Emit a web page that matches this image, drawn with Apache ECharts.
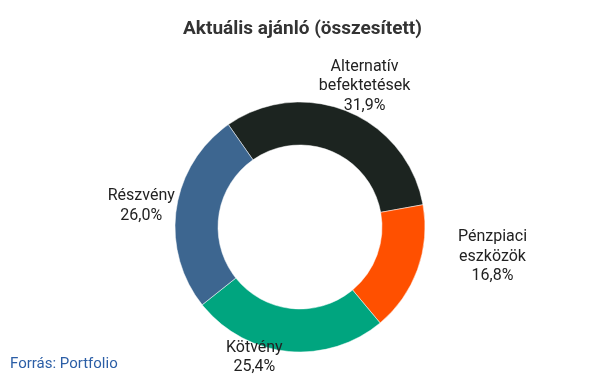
<!DOCTYPE html>
<html>
<head>
<meta charset="utf-8">
<script src="https://cdn.jsdelivr.net/npm/echarts@6/dist/echarts.min.js"></script>
<style>
  html, body { margin: 0; padding: 0; background: #fff; }
  #chart { width: 605px; height: 378px; }
</style>
</head>
<body>
<div id="chart"></div>
<script>
  // Aktuális ajánló – gyűrűdiagram
  var categories = ['Alternatív befektetések', 'Pénzpiaci eszközök', 'Kötvény', 'Részvény'];
  var shares = [31.9, 16.8, 25.4, 26.0];
  var colors = ['#1c2420', '#ff5000', '#00a57f', '#3d6690'];

  // címke eltolása a szelet külső ívének közepétől
  var labelShift = [[17, -25], [75, -13], [-33, 6], [-35, -3]];

  var myChart = echarts.init(document.getElementById('chart'));

  var pieData = categories.map(function (name, i) {
    return { name: name, value: shares[i], itemStyle: { color: colors[i] } };
  });

  var options = {
    backgroundColor: '#fff',
    animation: false,
    title: {
      text: 'Aktuális ajánló (összesített)',
      left: 'center',
      top: 15,
      textStyle: {
        fontFamily: 'Roboto',
        fontSize: 19,
        fontWeight: 'bold',
        color: '#333'
      }
    },
    graphic: [{
      type: 'text',
      left: 10,
      top: 357,
      style: {
        text: 'Forrás: Portfolio',
        fontFamily: 'Roboto',
        fontSize: 15,
        fill: '#2b5ea6'
      }
    }],
    series: [{
      type: 'pie',
      center: [300, 227],
      radius: [82, 125],
      startAngle: 125,
      clockwise: true,
      avoidLabelOverlap: false,
      itemStyle: { borderColor: '#fff', borderWidth: 0.5 },
      label: {
        show: true,
        position: 'outside',
        fontFamily: 'Roboto',
        fontSize: 16,
        lineHeight: 19.5,
        color: '#222',
        align: 'center',
        formatter: function (p) {
          return p.name.replace(' ', '\n') + '\n' + p.value.toFixed(1).replace('.', ',') + '%';
        }
      },
      labelLine: { show: true, length: 0, length2: 0, lineStyle: { width: 0, opacity: 0 } },
      labelLayout: function (p) {
        var pt = p.labelLinePoints ? p.labelLinePoints[0] : [p.rect.x + p.rect.width / 2, p.rect.y + p.rect.height / 2];
        var s = labelShift[p.dataIndex];
        return {
          x: pt[0] + s[0],
          y: pt[1] + s[1],
          align: 'center',
          verticalAlign: 'middle'
        };
      },
      emphasis: { disabled: true },
      data: pieData
    }]
  };

  myChart.setOption(options);
</script>
</body>
</html>
